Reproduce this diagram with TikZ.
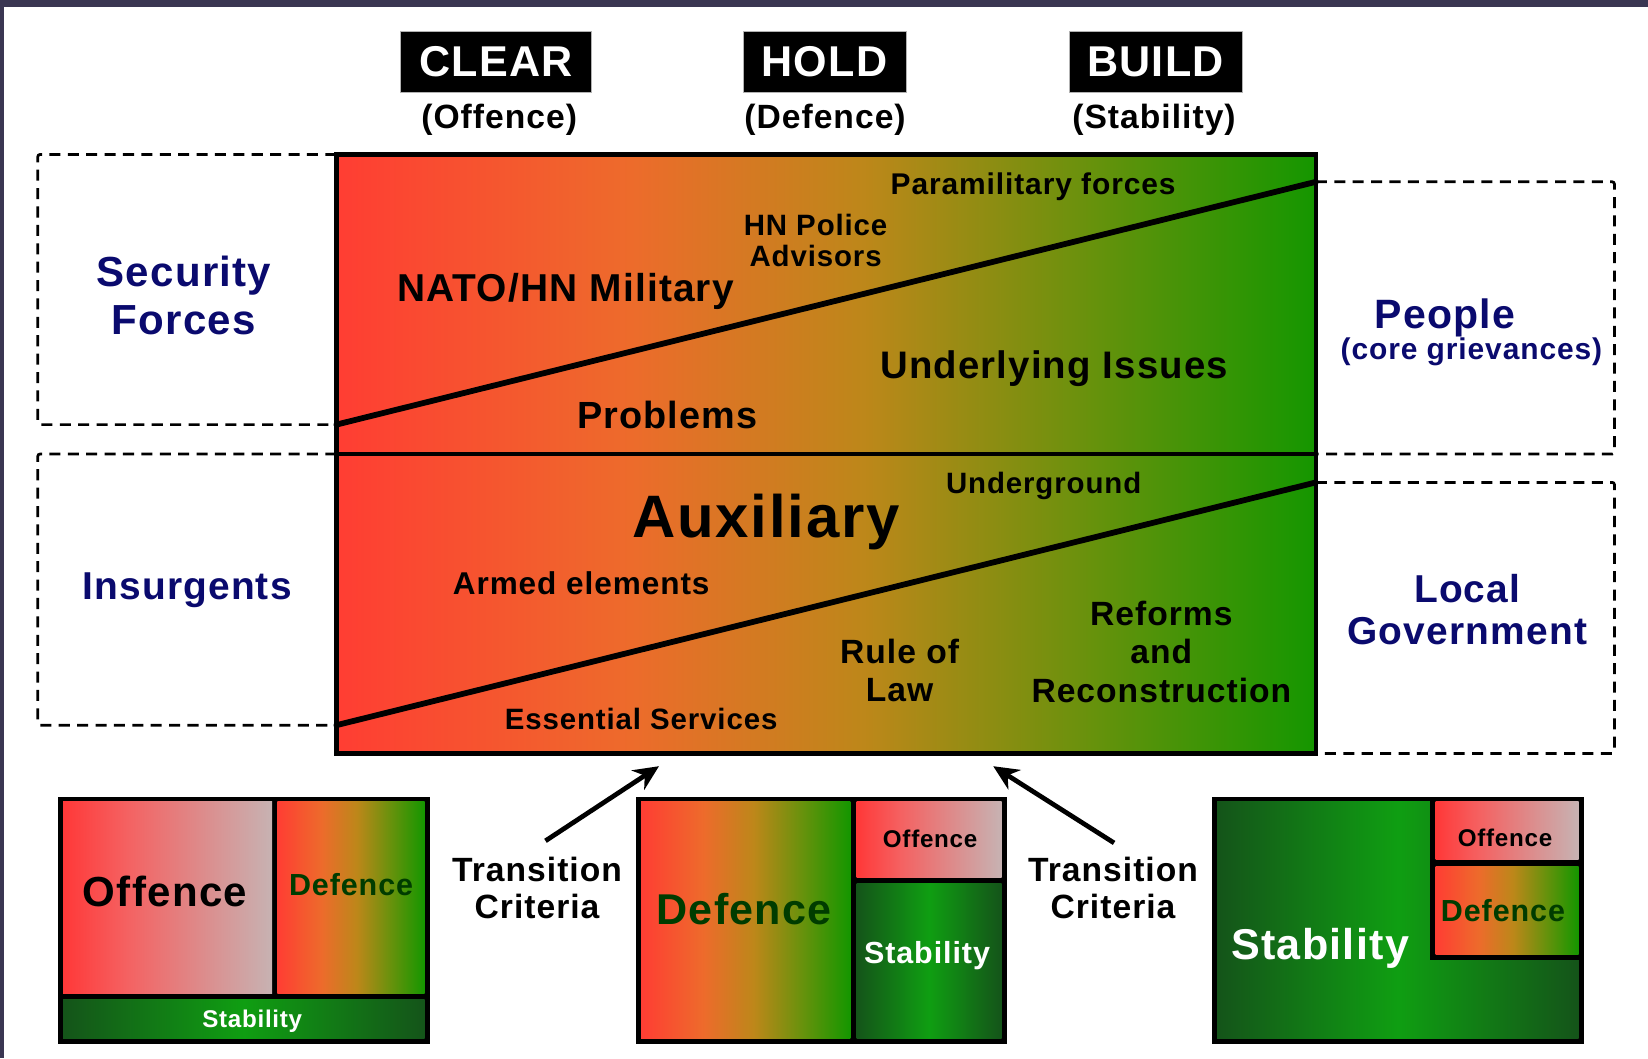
\documentclass[tikz,border=0pt]{standalone}
\usepackage{fontspec}
\setmainfont{Liberation Sans}[LetterSpace=3]
\usetikzlibrary{arrows.meta}
\definecolor{labnavy}{HTML}{0A0A6E}
\definecolor{framecol}{HTML}{3A3652}
\definecolor{dkgreen}{HTML}{003C00}
\pgfdeclarehorizontalshading{mainshade}{100bp}{rgb(0bp)=(1,0.24,0.2); rgb(25bp)=(1,0.24,0.2); rgb(40bp)=(0.93,0.42,0.17); rgb(52bp)=(0.74,0.53,0.1); rgb(63bp)=(0.42,0.57,0.05); rgb(75bp)=(0.08,0.59,0); rgb(100bp)=(0.08,0.59,0)}
\pgfdeclarehorizontalshading{offshade}{100bp}{rgb(0bp)=(1,0.22,0.22); rgb(25bp)=(1,0.22,0.22); rgb(40bp)=(0.96,0.38,0.38); rgb(75bp)=(0.78,0.70,0.70); rgb(100bp)=(0.78,0.70,0.70)}
\pgfdeclarehorizontalshading{stabshade}{100bp}{rgb(0bp)=(0.08,0.33,0.1); rgb(25bp)=(0.08,0.33,0.1); rgb(50bp)=(0.06,0.62,0.07); rgb(75bp)=(0.08,0.33,0.1); rgb(100bp)=(0.08,0.33,0.1)}
\newdimen\mybsk
\newcommand\fsz[2][1.07]{\mybsk=#2pt\mybsk=#1\mybsk\fontsize{#2pt}{\the\mybsk}\selectfont\bfseries}
\tikzset{
  dashbox/.style={draw=black, line width=2.6pt, dash pattern=on 10.5pt off 7pt, rounded corners=2pt},
  mainline/.style={line width=5.5pt, line cap=round},
  hdr/.style={fill=black, draw=gray!60, line width=0.6pt, text=white, inner sep=0pt, minimum height=58pt},
  lab/.style={text=labnavy, align=center, inner sep=0pt},
  txt/.style={text=black, align=center, inner sep=0pt},
  arr/.style={line width=4.5pt, -{Stealth[length=24pt,width=22pt]}},
  blk/.style={fill=black},
}
\begin{document}
\begin{tikzpicture}[x=1pt,y=-1pt]
\useasboundingbox (0,0) rectangle (1568,1007);
\fill[white] (0,0) rectangle (1568,1007);
% frame
\fill[framecol] (0,0) rectangle (1568,7);
\fill[framecol] (0,0) rectangle (4,1007);

% headers
\node[hdr, minimum width=182pt, font={\fsz{41}}] (clear) at (472,59) {CLEAR};
\node[hdr, minimum width=155pt, font={\fsz{41}}] (hold) at (784.5,59) {HOLD};
\node[hdr, minimum width=165pt, font={\fsz{41}}] (build) at (1099.5,59) {BUILD};
\node[txt, font={\fsz{32}}] (off) at (475,114) {(Offence)};
\node[txt, font={\fsz{32}}] (def) at (785,114) {(Defence)};
\node[txt, font={\fsz{32}}] (stab) at (1098,114) {(Stability)};

% dashed boxes
\draw[dashbox] (320,147) -- (36,147) -- (36,404) -- (320,404);
\draw[dashbox] (1252,173) -- (1536,173) -- (1536,432) -- (1252,432);
\draw[dashbox] (320,432) -- (36,432) -- (36,690) -- (320,690);
\draw[dashbox] (1252,459) -- (1536,459) -- (1536,717) -- (1252,717);

% main box
\coordinate (tl) at (320,147);
\coordinate (br) at (1252,717);
\coordinate (ml) at (320,432);
\coordinate (mr) at (1252,432);
\coordinate (d1a) at (320,404);
\coordinate (d1b) at (1252,173);
\coordinate (d2a) at (320,690);
\coordinate (d2b) at (1252,459);
\shade[shading=mainshade] (tl) rectangle (br);
\draw[mainline] (d1a) -- (d1b);
\draw[mainline] (d2a) -- (d2b);
\draw[line width=4pt] (ml) -- (mr);
\draw[line width=4.5pt] (tl) rectangle (br);

% side labels
\node[lab, font={\fsz[1.15]{40}}] (secf) at (175,281) {Security\\Forces};
\node[lab, font={\fsz{37}}] (insg) at (178,562) {Insurgents};
\node[lab, font={\fsz{39}}] (ppl) at (1375,302) {People};
\node[lab, font={\fsz{28.5}}] (grv) at (1400,335) {(core grievances)};
\node[lab, font={\fsz{37}}] (lgov) at (1396,580) {Local\\Government};

% main box labels
\node[txt, font={\fsz{28.5}}] (para) at (983,178) {Paramilitary forces};
\node[txt, font={\fsz{28}}] (hnp) at (776,229) {HN Police\\Advisors};
\node[txt, font={\fsz{37}}] (nato) at (538,277) {NATO/HN Military};
\node[txt, font={\fsz{36.5}}] (undi) at (1003,351) {Underlying Issues};
\node[txt, font={\fsz{36}}] (prob) at (635,395) {Problems};
\node[txt, font={\fsz{28}}] (ugr) at (993,462) {Underground};
\node[txt, font={\fsz{57}}] (aux) at (729,497) {Auxiliary};
\node[txt, font={\fsz{30}}] (armd) at (553,555) {Armed elements};
\node[txt, font={\fsz[1.14]{32}}] (refm) at (1105,620) {Reforms\\and\\Reconstruction};
\node[txt, font={\fsz[1.13]{32}}] (rol) at (856,638) {Rule of\\Law};
\node[txt, font={\fsz{28}}] (ess) at (610,684) {Essential Services};

% transition criteria
\node[txt, font={\fsz[1.12]{32}}] (tc1) at (511,845) {Transition\\Criteria};
\node[txt, font={\fsz[1.12]{32}}] (tc2) at (1059,845) {Transition\\Criteria};
\coordinate (a1s) at (519,800);
\coordinate (a1e) at (627,729);
\coordinate (a2s) at (1060,802);
\coordinate (a2e) at (945,729);
\draw[arr] (a1s) -- (a1e);
\draw[arr] (a2s) -- (a2e);

% bottom box 1
\fill[blk] (55,758) rectangle (409,993);
\shade[shading=offshade] (60,763) rectangle (259,945);
\shade[shading=mainshade] (264,763) rectangle (404,945);
\shade[shading=stabshade] (60,951) rectangle (404,988);
\node[txt, font={\fsz{40}}] (b1o) at (157,848) {Offence};
\node[txt, text=dkgreen, font={\fsz{29}}] (b1d) at (334,842) {Defence};
\node[txt, text=white, font={\fsz{23}}] (b1s) at (240,972) {Stability};

% bottom box 2
\fill[blk] (605,758) rectangle (958,993);
\shade[shading=mainshade] (610,763) rectangle (809,988);
\shade[shading=offshade] (815,763) rectangle (953,835);
\shade[shading=stabshade] (815,841) rectangle (953,988);
\node[txt, text=dkgreen, font={\fsz{41}}] (b2d) at (708,865) {Defence};
\node[txt, font={\fsz{23}}] (b2o) at (885,798) {Offence};
\node[txt, text=white, font={\fsz{29}}] (b2s) at (882,909) {Stability};

% bottom box 3
\fill[blk] (1153,758) rectangle (1507,993);
\shade[shading=stabshade] (1158,763) rectangle (1502,988);
\fill[blk] (1361,758) rectangle (1507,913);
\shade[shading=offshade] (1366,763) rectangle (1502,818);
\shade[shading=mainshade] (1366,824) rectangle (1502,908);
\node[txt, text=white, font={\fsz{41}}] (b3s) at (1256,902) {Stability};
\node[txt, font={\fsz{23}}] (b3o) at (1432,797) {Offence};
\node[txt, text=dkgreen, font={\fsz{29}}] (b3d) at (1430,866) {Defence};
\end{tikzpicture}
\end{document}
